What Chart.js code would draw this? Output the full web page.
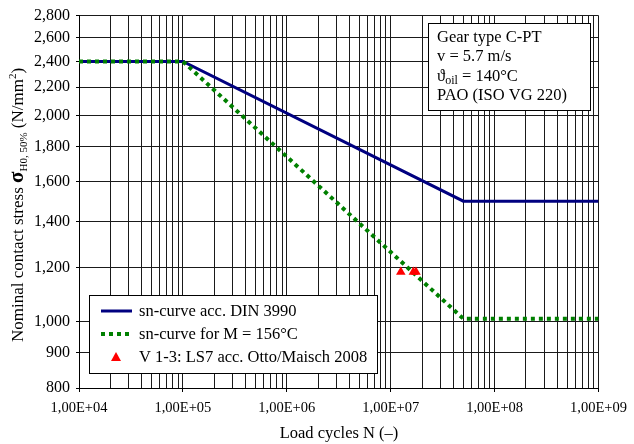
<!DOCTYPE html>
<html>
<head>
<meta charset="utf-8">
<script src="https://cdn.jsdelivr.net/npm/chart.js@4.4.0/dist/chart.umd.min.js"></script>
<style>
body { margin: 0; background: #fff; }
#wrap { width: 634px; height: 444px; }
</style>
</head>
<body>
<div id="wrap"><canvas id="chart" width="634" height="444"></canvas></div>
<script>
// chart values
var dinCycles = [1e4, 1e5, 5e7, 1e9];
var dinStress = [2400, 2400, 1500, 1500];
var tempCycles = [1e4, 1e5, 5e7, 1e9];
var tempStress = [2400, 2400, 1010, 1010];
var testCycles = [1.25e7, 1.65e7, 1.75e7];
var testStress = [1182, 1182, 1182];
var stressTicks = [800, 900, 1000, 1200, 1400, 1600, 1800, 2000, 2200, 2400, 2600, 2800];
var cycleDecades = [1e4, 1e5, 1e6, 1e7, 1e8, 1e9];
var seriesNames = ['sn-curve acc. DIN 3990', 'sn-curve for M = 156\u00b0C', 'V 1-3: LS7 acc. Otto/Maisch 2008'];
var infoLines = ['Gear type C-PT', 'v = 5.7 m/s', '\u03d1|oil| = 140\u00b0C', 'PAO (ISO VG 220)'];

var serif = "'Liberation Serif', 'Times New Roman', serif";
var navy = '#000080';
var green = '#008000';

function pts(xs, ys) {
    return xs.map(function (x, i) { return { x: x, y: ys[i] }; });
}

// every 1..9 line inside each decade
var cycleGrid = [];
cycleDecades.forEach(function (d, i) {
    if (i === cycleDecades.length - 1) { cycleGrid.push(d); return; }
    for (var m = 1; m <= 9; m++) cycleGrid.push(m * d);
});

function isDecade(v) {
    var l = Math.log10(v);
    return Math.abs(l - Math.round(l)) < 1e-9;
}

function sciLabel(v) {
    var e = Math.round(Math.log10(v));
    return '1,00E+' + (e < 10 ? '0' + e : e);
}

var overlay = {
    id: 'overlay',
    afterDraw: function (chart) {
        var ctx = chart.ctx;
        var area = chart.chartArea;
        var ds = chart.data.datasets;
        ctx.save();

        // info box, top right
        ctx.fillStyle = '#fff';
        ctx.fillRect(428, 23, 162, 87);
        ctx.strokeStyle = '#000';
        ctx.lineWidth = 1;
        ctx.strokeRect(428.5, 23.5, 162, 87);
        ctx.fillStyle = '#000';
        ctx.textBaseline = 'alphabetic';
        ctx.textAlign = 'left';
        infoLines.forEach(function (line, i) {
            var y = 42 + i * 19.4;
            var parts = line.split('|');
            var x = 437;
            parts.forEach(function (p, j) {
                if (j % 2 === 1) {
                    ctx.font = '12px ' + serif;
                    ctx.fillText(p, x, y + 3);
                } else {
                    ctx.font = '16.5px ' + serif;
                    ctx.fillText(p, x, y);
                }
                x += ctx.measureText(p).width;
            });
        });

        // legend box, bottom left
        ctx.fillStyle = '#fff';
        ctx.fillRect(89, 295, 288, 78);
        ctx.strokeStyle = '#000';
        ctx.strokeRect(89.5, 295.5, 288, 78);
        var rows = [311, 334, 357];
        ctx.font = '16.5px ' + serif;
        ctx.textBaseline = 'middle';
        rows.forEach(function (y, i) {
            var d = ds[i];
            if (i < 2) {
                ctx.beginPath();
                ctx.strokeStyle = d.borderColor;
                ctx.lineWidth = d.borderWidth;
                ctx.setLineDash(d.borderDash || []);
                ctx.moveTo(101, y);
                ctx.lineTo(132, y);
                ctx.stroke();
                ctx.setLineDash([]);
            } else {
                ctx.beginPath();
                ctx.fillStyle = d.backgroundColor;
                ctx.moveTo(116, y - 5);
                ctx.lineTo(121, y + 4);
                ctx.lineTo(111, y + 4);
                ctx.closePath();
                ctx.fill();
            }
            ctx.fillStyle = '#000';
            ctx.fillText(seriesNames[i], 139, y + 1);
        });

        // x axis title
        ctx.font = '16.5px ' + serif;
        ctx.textAlign = 'center';
        ctx.textBaseline = 'alphabetic';
        ctx.fillText('Load cycles N (\u2013)', 339, 438);

        // y axis title, rotated, with sigma subscript and mm² superscript
        var segs = [
            { t: 'Nominal contact stress ', f: '17px ' + serif, dy: 0 },
            { t: '\u03c3', f: 'bold 21px ' + serif, dy: 0 },
            { t: 'H0, 50%', f: '11px ' + serif, dy: 4 },
            { t: ' (N/mm', f: '17px ' + serif, dy: 0 },
            { t: '2', f: '11px ' + serif, dy: -7 },
            { t: ')', f: '17px ' + serif, dy: 0 }
        ];
        var total = 0;
        segs.forEach(function (s) { ctx.font = s.f; s.w = ctx.measureText(s.t).width; total += s.w; });
        ctx.translate(23, 205);
        ctx.rotate(-Math.PI / 2);
        ctx.textAlign = 'left';
        var x = -total / 2;
        segs.forEach(function (s) {
            ctx.font = s.f;
            ctx.fillText(s.t, x, s.dy);
            x += s.w;
        });
        ctx.restore();
    }
};

var ctx = document.getElementById('chart').getContext('2d');
var myChart = new Chart(ctx, {
    type: 'scatter',
    data: {
        datasets: [{
            label: seriesNames[0],
            data: pts(dinCycles, dinStress),
            showLine: true,
            borderColor: navy,
            backgroundColor: navy,
            borderWidth: 3,
            pointRadius: 0,
            order: 3
        }, {
            label: seriesNames[1],
            data: pts(tempCycles, tempStress),
            showLine: true,
            borderColor: green,
            backgroundColor: green,
            borderWidth: 4,
            borderDash: [4, 4],
            pointRadius: 0,
            order: 2
        }, {
            label: seriesNames[2],
            data: pts(testCycles, testStress),
            pointStyle: 'triangle',
            pointRadius: 5.5,
            backgroundColor: '#ff0000',
            borderColor: '#ff0000',
            borderWidth: 0,
            order: 1
        }]
    },
    options: {
        responsive: false,
        animation: false,
        layout: { padding: { top: 14, right: 34, left: 0, bottom: 0 } },
        plugins: {
            legend: { display: false },
            tooltip: { enabled: false }
        },
        scales: {
            x: {
                type: 'logarithmic',
                min: 1e4,
                max: 1e9,
                afterBuildTicks: function (scale) {
                    scale.ticks = cycleGrid.map(function (v) { return { value: v }; });
                },
                afterFit: function (scale) { scale.height = 56; },
                grid: {
                    color: '#1a1a1a',
                    lineWidth: 1,
                    tickLength: 4,
                    tickColor: function (c) {
                        return c.tick && isDecade(c.tick.value) ? '#000' : 'rgba(0,0,0,0)';
                    }
                },
                border: { display: true, color: '#000', width: 1 },
                ticks: {
                    autoSkip: false,
                    maxRotation: 0,
                    padding: 7,
                    color: '#000',
                    font: { family: serif, size: 14.5 },
                    callback: function (v) { return isDecade(v) ? sciLabel(v) : ''; }
                }
            },
            y: {
                type: 'logarithmic',
                min: 800,
                max: 2800,
                afterBuildTicks: function (scale) {
                    scale.ticks = stressTicks.map(function (v) { return { value: v }; });
                },
                afterFit: function (scale) { scale.width = 79; },
                grid: {
                    color: '#1a1a1a',
                    lineWidth: 1,
                    tickLength: 3,
                    tickColor: '#000'
                },
                border: { display: true, color: '#000', width: 1 },
                ticks: {
                    autoSkip: false,
                    padding: 6,
                    color: '#000',
                    font: { family: serif, size: 16 },
                    callback: function (v) { return v.toLocaleString('en-US'); }
                }
            }
        }
    },
    plugins: [overlay]
});
</script>
</body>
</html>
